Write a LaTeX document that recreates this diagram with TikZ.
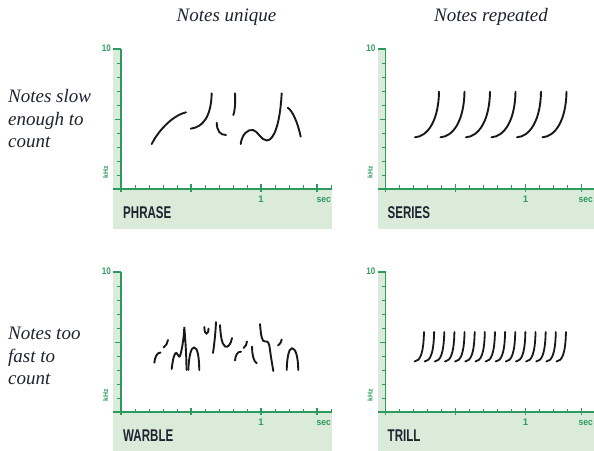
\documentclass[tikz,border=0pt]{standalone}
\usepackage{fontspec}
\setmainfont{Liberation Serif}
\newfontfamily\panelfont{Liberation Sans}
\usetikzlibrary{positioning}
\definecolor{axisgreen}{HTML}{2E9B5E}
\definecolor{panelfill}{HTML}{DAEBDA}
\definecolor{ink}{HTML}{1E2330}

\begin{document}
\begin{tikzpicture}[x=1pt,y=1pt,
    note/.style={line width=1.9pt,line cap=round,black!90},
    axisline/.style={axisgreen,line width=1.1pt},
    heading/.style={font=\fontsize{19}{22.5}\selectfont\itshape,text=ink},
    rowlabel/.style={heading,align=left,anchor=west,inner sep=0pt},
    axislabel/.style={font=\panelfont\bfseries\fontsize{9.5}{9.5}\selectfont,text=axisgreen,inner sep=0pt},
    kind/.style={font=\panelfont\bfseries\fontsize{17}{17}\selectfont,text=ink,anchor=west,inner sep=0pt}]
  \useasboundingbox (0,0) rectangle (594,450);

  % column and row headings
  \node[heading] (unique) at (226.5,433) {Notes unique};
  \node[heading] (repeated) at (491,433) {Notes repeated};
  \node[rowlabel] (slow) at (8,331) {Notes slow\\enough to\\count};
  \node[rowlabel] (fast) at (8,94) {Notes too\\fast to\\count};

  % the four spectrogram frames
  \foreach \nm/\ox/\oy/\lab/\sx in {phrase/121/261/PHRASE/210,series/385.5/261/SERIES/207.5,
                                    warble/121/38/WARBLE/210,trill/385.5/38/TRILL/207.5}{
    \begin{scope}[shift={(\ox,\oy)}]
      \fill[panelfill] (-8,0) rectangle (0,140);
      \fill[panelfill] (-8,-40) rectangle (211,0);
      \draw[axisline] (-8,0) -- (211,0);
      \draw[axisline] (0,0) -- (0,140);
      \draw[axisline] (-8,140) -- (0,140);
      \foreach \k in {1,...,9}
        \draw[axisline,line width=0.9pt] (-4,14*\k) -- (0,14*\k);
      \draw[axisline,line width=0.9pt] (-6,70) -- (0,70);
      \foreach \t in {1,...,15}
        \draw[axisline,line width=0.9pt] (14*\t,0) -- (14*\t,3.5);
      \foreach \t in {0,5,10,14}
        \draw[axisline] (14*\t,-3) -- (14*\t,4.5);
      \node[axislabel,anchor=east] (\nm-top) at (-10,141) {\scalebox{0.85}[1]{10}};
      \node[axislabel,rotate=90,font=\panelfont\bfseries\fontsize{7}{7}\selectfont] (\nm-khz) at (-15.5,17) {kHz};
      \node[axislabel] (\nm-one) at (140,-10.5) {1};
      \node[axislabel,anchor=east] (\nm-sec) at (\sx,-10.5) {\scalebox{0.9}[1]{sec}};
      \node[kind] (\nm-kind) at (2,-24) {\scalebox{0.68}[1]{\lab}};
    \end{scope}
  }

  % phrase
  \begin{scope}[shift={(121,261)}]
    \draw[note] (30.7,45) .. controls (36,56) and (50,73) .. (65,76.7);
    \draw[note] (69.7,60.3) .. controls (82,62) and (90,72) .. (90.7,95.7);
    \draw[note] (114,95.7) .. controls (114.5,88) and (114,78) .. (112.3,74);
    \draw[note] (95.7,66.3) .. controls (96,58) and (99,54) .. (105,54);
    \draw[note] (119.7,45) .. controls (121,55) and (127,60) .. (132,59)
                .. controls (137,58) and (140,48.5) .. (146,48.5)
                .. controls (153,49) and (159,65) .. (160.7,95.7);
    \draw[note] (166.7,81.3) .. controls (172,78) and (177,65) .. (179.7,52.3);
  \end{scope}

  % series
  \begin{scope}[shift={(385.5,261)}]
    \foreach \i in {0,...,5}
      \draw[note] ({29.5+25.5*\i},51.7) .. controls ({42+25.5*\i},52.5) and ({53+25.5*\i},68) .. ({53.5+25.5*\i},97.3);
  \end{scope}

  % warble
  \begin{scope}[shift={(121,38)}]
    \draw[note] (33.3,49.3) .. controls (34,55) and (36,59.5) .. (39.5,59.5);
    \draw[note] (42.5,64.5) .. controls (45,66) and (46.5,69) .. (47,72);
    \draw[note] (50.7,43) .. controls (52,55) and (54,60) .. (55.5,59)
                .. controls (57,58) and (58,54) .. (59,56)
                .. controls (61,62) and (63,75) .. (63.3,85)
                .. controls (64.5,70) and (65.5,55) .. (65.5,42);
    \draw[note] (67.3,42) .. controls (68,56) and (70,64.5) .. (73,64.5)
                .. controls (76.5,64.5) and (78,56) .. (78.3,42);
    \draw[note] (83.3,85) .. controls (83.5,80) and (84.5,78.5) .. (85.5,78.5)
                .. controls (86.5,78.5) and (87.5,80) .. (87.5,83.5);
    \draw[note] (95,90) .. controls (94.5,78) and (93,66) .. (92,59);
    \draw[note] (99,87) .. controls (99.5,78) and (100.5,68) .. (104,65.5)
                .. controls (107,64) and (110,68) .. (111,74);
    \draw[note] (114,51.5) .. controls (114.5,57) and (116.5,60.5) .. (120,60.3);
    \draw[note] (122.5,64) .. controls (124.5,65.5) and (125.8,67.5) .. (126,70.5);
    \draw[note] (131,65.5) .. controls (131,58) and (132.5,50.5) .. (135.7,48.7);
    \draw[note] (139,88) .. controls (140,76) and (141,70) .. (144,70.5)
                .. controls (147,71) and (148,70) .. (149,62)
                .. controls (150,54) and (151.5,46) .. (152.3,41);
    \draw[note] (157,66.5) .. controls (159,68) and (160.5,70) .. (160.7,72.5);
    \draw[note] (165.7,42) .. controls (166,55) and (168,63.7) .. (171,63.7)
                .. controls (174.5,63.7) and (177,56) .. (177.3,42);
  \end{scope}

  % trill
  \begin{scope}[shift={(385.5,38)}]
    \foreach \i [evaluate=\i as \t using 38.5+10.14*\i] in {0,...,14}
      \draw[note,line width=1.8pt] (\t-9.5,50.5) .. controls (\t-4,51) and (\t-0.5,58) .. (\t,80);
  \end{scope}
\end{tikzpicture}
\end{document}
